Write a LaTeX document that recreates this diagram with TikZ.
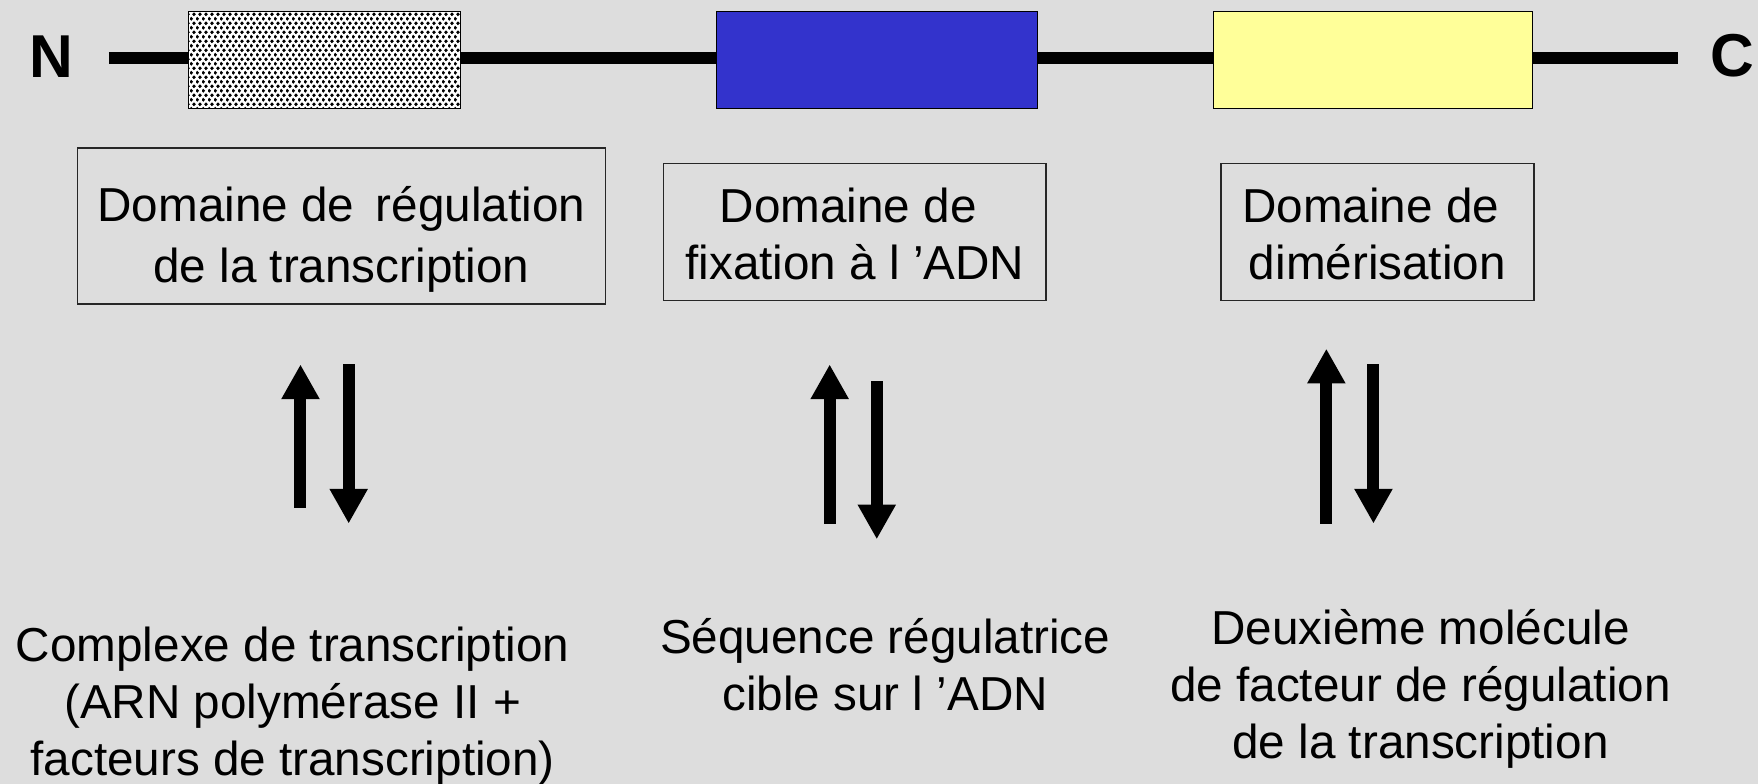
\documentclass[tikz,border=0pt]{standalone}
\usepackage{fontspec}
\setmainfont{Liberation Sans}
\usetikzlibrary{arrows.meta,patterns.meta}

% coarse dot screen used for the regulation domain
\pgfdeclarepattern{
  name=stipple,
  type=uncolored,
  bottom left={\pgfpoint{0pt}{0pt}},
  top right={\pgfpoint{5pt}{8pt}},
  tile size={\pgfpoint{5pt}{8pt}},
  code={
    \pgfpathcircle{\pgfpoint{1.25pt}{2pt}}{1.75pt}
    \pgfpathcircle{\pgfpoint{3.75pt}{6pt}}{1.75pt}
    \pgfusepath{fill}
  }
}

\definecolor{bg}{HTML}{DDDDDD}
\definecolor{dnablue}{HTML}{3333CC}
\definecolor{dimyellow}{HTML}{FFFF99}

\tikzset{
  terminus/.style={font=\fontsize{54}{60}\selectfont\bfseries, inner sep=0pt},
  chain/.style={line width=10.5pt},
  domain/.style={draw=black, line width=1pt, minimum width=#1, minimum height=87pt, inner sep=0pt},
  labelbox/.style={draw=black!85, line width=1.3pt, inner sep=0pt},
  lbl/.style={font=\fontsize{42.5}{51}\selectfont, align=center, inner sep=0pt},
  partner/.style={font=\fontsize{42.5}{51}\selectfont, align=center, inner sep=0pt},
  exch/.style={line width=10.7pt, -{Triangle[width=32pt,length=31pt]}}
}

\begin{document}
\begin{tikzpicture}[x=1pt,y=-1pt]
  \fill[bg] (0,0) rectangle (1568,699);
  \useasboundingbox (0,0) rectangle (1568,699);

  % termini and backbone
  \node[terminus] (N) at (45.5,50.5) {N};
  \node[terminus, anchor=west] (C) at (1525,49.5) {C};
  \coordinate (chainL) at (97,52);
  \coordinate (chainR) at (1497,52);
  \draw[chain] (chainL) -- (chainR);

  % the three domains on the chain
  \node[domain=243pt, fill=white, postaction={pattern=stipple, pattern color=black}] (reg) at (289.5,53.5) {};
  \node[domain=286pt, fill=dnablue] (dna) at (782,53.5) {};
  \node[domain=285pt, fill=dimyellow] (dim) at (1224.5,53.5) {};

  % domain names
  \node[labelbox, minimum width=471pt, minimum height=139pt] (b1) at (304.5,201.5) {};
  \node[lbl, font=\fontsize{42.5}{54}\selectfont] (t1) at (304.5,213.5) {Domaine de\hspace{.45em}régulation\\de la transcription};
  \node[labelbox, minimum width=341pt, minimum height=122pt] (b2) at (762.5,207) {};
  \node[lbl] (t2) at (762.5,209) {Domaine de\hspace*{.278em}\\fixation à l ’ADN};
  \node[labelbox, minimum width=279pt, minimum height=122pt] (b3) at (1228.5,207) {};
  \node[lbl] (t3) at (1228.5,209) {Domaine de\hspace*{.278em}\\dimérisation};

  % binding partners
  \node[partner] (p1) at (261,630) {Complexe de transcription\\(ARN polymérase II +\\facteurs de transcription)};
  \node[partner] (p2) at (789.5,593) {Séquence régulatrice\\cible sur l ’ADN};
  \node[partner] (p3) at (1267,614.5) {Deuxième molécule\\de facteur de régulation\\de la transcription};

  % reversible interactions
  \coordinate (u1a) at (268,453); \coordinate (u1b) at (268,325);
  \coordinate (d1a) at (311,325); \coordinate (d1b) at (311,467);
  \coordinate (u2a) at (740,467); \coordinate (u2b) at (740,325);
  \coordinate (d2a) at (782,340); \coordinate (d2b) at (782,481);
  \coordinate (u3a) at (1183,467); \coordinate (u3b) at (1183,311);
  \coordinate (d3a) at (1225,325); \coordinate (d3b) at (1225,467);
  \draw[exch] (u1a) -- (u1b);
  \draw[exch] (d1a) -- (d1b);
  \draw[exch] (u2a) -- (u2b);
  \draw[exch] (d2a) -- (d2b);
  \draw[exch] (u3a) -- (u3b);
  \draw[exch] (d3a) -- (d3b);
\end{tikzpicture}
\end{document}
